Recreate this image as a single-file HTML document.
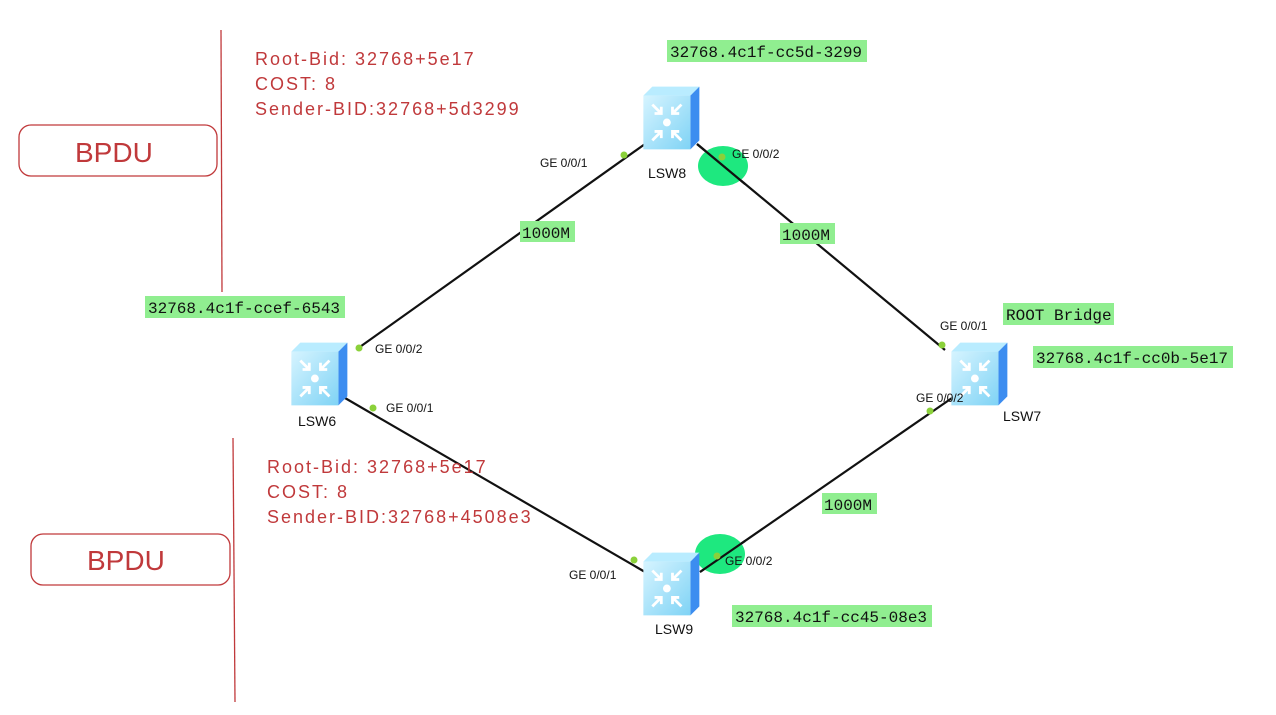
<!DOCTYPE html>
<html><head><meta charset="utf-8"><style>
body{margin:0;background:#fff;width:1276px;height:710px;overflow:hidden}
</style></head><body>
<svg width="1276" height="710" viewBox="0 0 1276 710" xmlns="http://www.w3.org/2000/svg">
<defs>
<linearGradient id="g" x1="0" y1="0" x2="1" y2="1"><stop offset="0" stop-color="#d6f4ff"/><stop offset="1" stop-color="#7fd3f5"/></linearGradient>
<g id="sw" transform="scale(1.12)">
<polygon points="-22,-20 -14,-28 28,-28 20,-20" fill="#b9ecff"/>
<polygon points="20,-20 28,-28 28,20 20,28" fill="#3c8df0"/>
<rect x="-22" y="-20" width="42" height="48" fill="url(#g)"/>
<g stroke="#fff" stroke-width="2.5" fill="none">
<path d="M-14,-12 L-6,-4 M-6,-10 V-4 H-12"/><path d="M12,-12 L4,-4 M4,-10 V-4 H10"/>
<path d="M-14,20 L-6,12 M-6,18 V12 H-12"/><path d="M12,20 L4,12 M4,18 V12 H10"/>
</g><circle cx="-1" cy="4" r="3.5" fill="#fff"/>
</g>
</defs>
<g stroke="#111" stroke-width="2.2">
<line x1="645" y1="144" x2="357" y2="349"/>
<line x1="697" y1="144" x2="945" y2="350"/>
<line x1="345" y1="398" x2="645" y2="572"/>
<line x1="700" y1="572" x2="952" y2="398"/>
</g>
<ellipse cx="723" cy="166" rx="25" ry="20" fill="#1ee87f"/>
<ellipse cx="720" cy="554" rx="25" ry="20" fill="#1ee87f"/>
<line x1="697" y1="144" x2="745" y2="184" stroke="#111" stroke-width="2.2"/>
<line x1="700" y1="572" x2="745" y2="541" stroke="#111" stroke-width="2.2"/>
<use href="#sw" x="668" y="118"/><use href="#sw" x="316" y="374"/>
<use href="#sw" x="976" y="374"/><use href="#sw" x="668" y="584"/>
<g fill="#8bd13a"><circle cx="624" cy="155" r="3.5"/><circle cx="722" cy="157" r="3.5"/><circle cx="359" cy="348" r="3.5"/><circle cx="942" cy="345" r="3.5"/><circle cx="373" cy="408" r="3.5"/><circle cx="930" cy="411" r="3.5"/><circle cx="634" cy="560" r="3.5"/><circle cx="717" cy="556" r="3.5"/></g>
<g font-family="Liberation Sans,sans-serif" font-size="12" fill="#111">
<text x="540" y="167">GE 0/0/1</text><text x="732" y="158">GE 0/0/2</text>
<text x="375" y="353">GE 0/0/2</text><text x="386" y="412">GE 0/0/1</text>
<text x="940" y="330">GE 0/0/1</text><text x="916" y="402">GE 0/0/2</text>
<text x="569" y="579">GE 0/0/1</text><text x="725" y="565">GE 0/0/2</text>
<g font-size="14"><text x="648" y="178">LSW8</text><text x="298" y="426">LSW6</text><text x="1003" y="421">LSW7</text><text x="655" y="634">LSW9</text></g>
</g>
<g fill="#90ee90">
<rect x="667" y="40" width="200" height="22"/><rect x="145" y="296" width="200" height="22"/>
<rect x="1003" y="303" width="111" height="22"/><rect x="1033" y="346" width="200" height="22"/>
<rect x="732" y="605" width="200" height="22"/>
<rect x="520" y="221" width="55" height="21"/><rect x="780" y="223" width="55" height="21"/><rect x="822" y="493" width="55" height="21"/>
</g>
<g font-family="Liberation Mono,monospace" font-size="16" fill="#111">
<text x="670" y="57">32768.4c1f-cc5d-3299</text><text x="148" y="313">32768.4c1f-ccef-6543</text>
<text x="1006" y="320">ROOT Bridge</text><text x="1036" y="363">32768.4c1f-cc0b-5e17</text>
<text x="735" y="622">32768.4c1f-cc45-08e3</text>
<text x="522" y="238">1000M</text><text x="782" y="240">1000M</text><text x="824" y="510">1000M</text>
</g>
<g stroke="#c0393b" stroke-width="1.3" fill="none">
<line x1="221" y1="30" x2="222" y2="292"/><line x1="233" y1="438" x2="235" y2="702"/>
<rect x="19" y="125" width="198" height="51" rx="12"/><rect x="31" y="534" width="199" height="51" rx="12"/>
</g>
<g font-family="Liberation Sans,sans-serif" fill="#c0393b">
<text x="75" y="162" font-size="28">BPDU</text><text x="87" y="570" font-size="28">BPDU</text>
<g font-size="18" letter-spacing="2"><text x="255" y="65">Root-Bid: 32768+5e17</text><text x="255" y="90">COST: 8</text><text x="255" y="115">Sender-BID:32768+5d3299</text>
<text x="267" y="473">Root-Bid: 32768+5e17</text><text x="267" y="498">COST: 8</text><text x="267" y="523">Sender-BID:32768+4508e3</text></g>
</g>
</svg>
</body></html>
